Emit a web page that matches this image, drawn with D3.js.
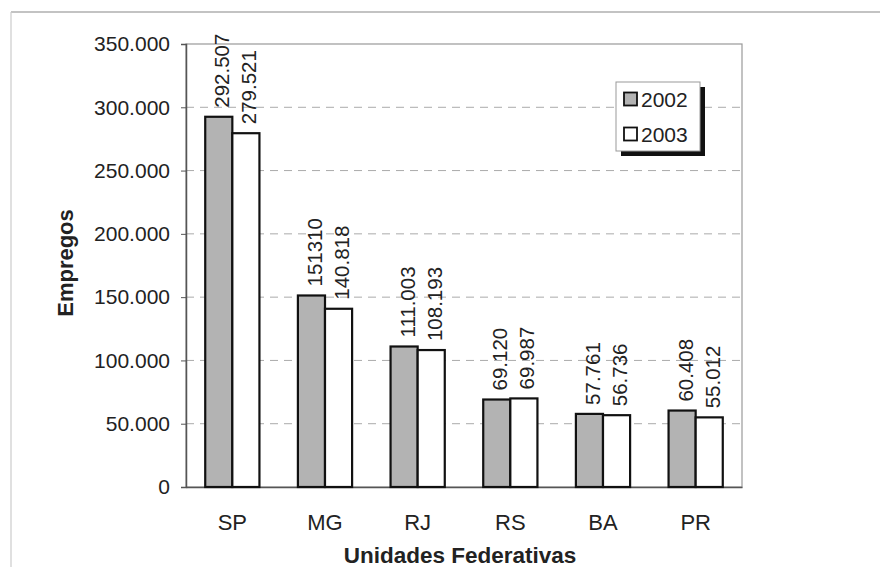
<!DOCTYPE html>
<html lang="pt">
<head>
<meta charset="UTF-8">
<title>Empregos por UF</title>
<script src="https://d3js.org/d3.v7.min.js"></script>
<style>
  body { margin: 0; background: #fff; }
  text { font-family: Arial, "Liberation Sans", sans-serif; fill: #222; }
</style>
</head>
<body>
<svg id="chart" width="880" height="567"></svg>
<script>
// data
const ufs = ["SP", "MG", "RJ", "RS", "BA", "PR"];
const years = ["2002", "2003"];
const v2002 = [292507, 151310, 111003, 69120, 57761, 60408];
const v2003 = [279521, 140818, 108193, 69987, 56736, 55012];
const lbl2002 = ["292.507", "151310", "111.003", "69.120", "57.761", "60.408"];
const lbl2003 = ["279.521", "140.818", "108.193", "69.987", "56.736", "55.012"];
const yTicks = [0, 50000, 100000, 150000, 200000, 250000, 300000, 350000];

const fills = { "2002": "#b3b3b3", "2003": "#ffffff" };

const svg = d3.select("#chart");
const m = { left: 186, right: 742, top: 44, bottom: 487 };

// outer frame (only top and left show in the original)
svg.append("line").attr("x1", 11).attr("x2", 880).attr("y1", 12).attr("y2", 12)
  .attr("stroke", "#888").attr("stroke-width", 1.2);
svg.append("line").attr("x1", 11).attr("x2", 11).attr("y1", 12).attr("y2", 567)
  .attr("stroke", "#ccc").attr("stroke-width", 1.2);

const x = d3.scaleBand().domain(ufs).range([m.left, m.right])
  .paddingInner(0.415).paddingOuter(0.2075);
const xs = d3.scaleBand().domain(years).range([0, x.bandwidth()]);
const y = d3.scaleLinear().domain([0, 350000]).range([m.bottom, m.top]);

// grid lines
svg.append("g").selectAll("line")
  .data(yTicks.filter(d => d > 0 && d < 350000))
  .join("line")
  .attr("x1", m.left).attr("x2", m.right)
  .attr("y1", d => y(d)).attr("y2", d => y(d))
  .attr("stroke", "#aaa").attr("stroke-dasharray", "8,6");

// plot border
svg.append("rect").attr("x", m.left).attr("y", m.top)
  .attr("width", m.right - m.left).attr("height", m.bottom - m.top)
  .attr("fill", "none").attr("stroke", "#999").attr("stroke-width", 1.2);

// y axis
const fmt = d => d === 0 ? "0" : d3.format(",")(d).replace(/,/g, ".");
const yAxis = svg.append("g").attr("transform", `translate(${m.left},0)`)
  .call(d3.axisLeft(y).tickValues(yTicks).tickFormat(fmt).tickSize(5).tickPadding(11));
yAxis.select(".domain").attr("stroke", "#555").attr("stroke-width", 1.5);
yAxis.selectAll(".tick line").attr("stroke", "#555");
yAxis.selectAll("text").attr("font-size", 21).attr("fill", "#222")
  .attr("font-family", "Arial, 'Liberation Sans', sans-serif");

// x axis
const xAxis = svg.append("g").attr("transform", `translate(0,${m.bottom})`)
  .call(d3.axisBottom(x).tickSize(0).tickPadding(27));
xAxis.select(".domain").attr("stroke", "#555").attr("stroke-width", 1.5);
xAxis.selectAll("text").attr("font-size", 22).attr("fill", "#222")
  .attr("font-family", "Arial, 'Liberation Sans', sans-serif");

// bars
const rows = [];
ufs.forEach((u, i) => {
  rows.push({ uf: u, year: "2002", v: v2002[i], label: lbl2002[i] });
  rows.push({ uf: u, year: "2003", v: v2003[i], label: lbl2003[i] });
});

svg.append("g").selectAll("rect").data(rows).join("rect")
  .attr("x", d => x(d.uf) + xs(d.year))
  .attr("y", d => y(d.v))
  .attr("width", xs.bandwidth())
  .attr("height", d => y(0) - y(d.v))
  .attr("fill", d => fills[d.year])
  .attr("stroke", "#111").attr("stroke-width", 2.2);

// value labels, rotated
svg.append("g").selectAll("text").data(rows).join("text")
  .attr("transform", d => {
    const cx = x(d.uf) + xs(d.year) + xs.bandwidth() / 2 + 3;
    return `translate(${cx},${y(d.v) - 9}) rotate(-90)`;
  })
  .attr("dominant-baseline", "central")
  .attr("font-size", 20.5)
  .text(d => d.label);

// axis titles
svg.append("text").attr("transform", "translate(65,263) rotate(-90)")
  .attr("text-anchor", "middle").attr("dominant-baseline", "central")
  .attr("font-size", 22).attr("font-weight", "bold").text("Empregos");
svg.append("text").attr("x", 460).attr("y", 563)
  .attr("text-anchor", "middle")
  .attr("font-size", 22.5).attr("font-weight", "bold").text("Unidades Federativas");

// legend
const lg = svg.append("g").attr("transform", "translate(616,82)");
lg.append("rect").attr("x", 5).attr("y", 5).attr("width", 84).attr("height", 69).attr("fill", "#111");
lg.append("rect").attr("x", 0).attr("y", 0).attr("width", 84).attr("height", 69)
  .attr("fill", "#fff").attr("stroke", "#999");
years.forEach((yr, i) => {
  const cy = 17 + i * 35;
  lg.append("rect").attr("x", 8).attr("y", cy - 6.5).attr("width", 13).attr("height", 13)
    .attr("fill", fills[yr]).attr("stroke", "#111").attr("stroke-width", 1.8);
  lg.append("text").attr("x", 25).attr("y", cy).attr("dominant-baseline", "central")
    .attr("font-size", 21).text(yr);
});
</script>
</body>
</html>
